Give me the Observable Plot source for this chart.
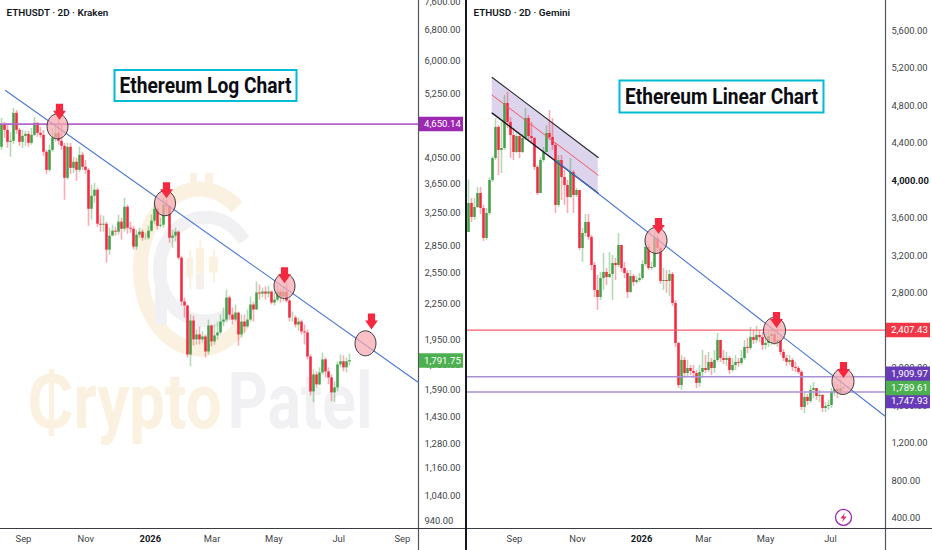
<!DOCTYPE html>
<html>
<head>
<meta charset="utf-8">
<script src="https://cdn.jsdelivr.net/npm/d3@7"></script>
<script src="https://cdn.jsdelivr.net/npm/@observablehq/plot@0.6"></script>
<style>
html,body{margin:0;padding:0;background:#fff;overflow:hidden}
#wrap{display:flex;width:932px;height:550px}
#wrap svg{display:block;flex:none}
#left{width:465px;height:550px}
#right{width:465px;height:550px;border-left:2px solid #131722}
</style>
</head>
<body>
<div id="wrap"><div id="left"></div><div id="right"></div></div>
<script>
// ---------- Left panel (ETHUSDT, log scale) ----------
const leftFirstOpen = 4235;
const leftClose = [4626,4534,4320,4338,4855,4534,4320,4425,4461,4303,4443,4664,4479,4443,4150,3859,4183,4390,4479,4338,4251,3737,4234,3890,3986,3859,4100,3907,3859,3298,3476,3561,3105,3093,3105,2797,2959,3019,3007,3131,3043,3325,3055,3043,2831,2971,3007,2935,2935,3019,3144,3298,3080,3093,3352,3339,2935,2959,3007,2708,2269,2233,1833,2102,1947,1987,1947,1971,1855,2060,1932,1979,2003,2093,2110,2306,2153,2110,2170,1987,2093,2052,2110,2242,2197,2353,2343,2362,2343,2362,2260,2287,2362,2315,2362,2278,2127,2127,2068,2093,2011,2003,1818,1579,1691,1625,1705,1797,1712,1671,1573,1605,1761,1783,1740,1783,1791.75];
const leftHigh = [4758,4682,4645,4497,4953,4914,4571,4534,4516,4516,4571,4777,4682,4589,4534,4183,4268,4571,4645,4758,4626,4303,4303,4303,4067,4051,4234,4150,4018,3890,3633,3662,3590,3220,3208,3131,3055,3093,3068,3220,3182,3448,3352,3131,3080,3031,3055,3031,2995,3080,3220,3379,3312,3182,3448,3420,3325,3031,3055,3019,2730,2306,2242,2153,2144,2027,2052,2011,1987,2110,2068,2068,2093,2153,2215,2381,2325,2215,2242,2179,2153,2153,2197,2315,2269,2459,2430,2401,2411,2420,2372,2353,2430,2391,2411,2450,2297,2179,2144,2127,2110,2068,2027,1833,1726,1712,1740,1847,1811,1740,1691,1645,1783,1833,1826,1811,1840];
const leftLow = [4183,4390,4217,4067,4285,4461,4251,4217,4251,4234,4268,4425,4407,4390,4084,3797,3828,4150,4320,4268,4183,3420,3707,3797,3812,3692,3828,3859,3797,3080,3156,3379,3068,3007,3007,2655,2741,2971,2959,2971,2912,3007,2983,2995,2797,2797,2935,2900,2912,2912,3007,3105,3031,3055,3055,3220,2877,2819,2889,2687,2233,2127,1811,1747,1900,1908,1908,1924,1811,1833,1893,1908,1947,1987,2052,2093,2110,2068,2093,1900,1963,2003,2044,2093,2093,2197,2287,2306,2287,2306,2242,2233,2269,2260,2269,2260,2093,2093,2044,2019,1987,1908,1797,1555,1511,1605,1618,1691,1671,1625,1518,1511,1579,1740,1712,1705,1754];
const leftYTicks = [7600,6800,6000,5250,4050,3650,3250,2850,2550,2250,1950,1760,1590,1430,1280,1160,1040,940];
const leftXTicks = [7.33,28.1,49.6,70.2,90.8,112.4,133.6];
const leftXLabels = ["Sep","Nov","2026","Mar","May","Jul","Sep"];
const leftTrend = [{x:1.33,y:5326},{x:139,y:1640}];
const leftCircleX = [18.67,54.5,94.33,121.33];
const leftCircleY = [4608,3379,2420,1921];
const leftArrowX = [19.33,55,94.33,123.33];
const leftArrowY = [4885,3561,2529,2098];

// ---------- Right panel (ETHUSD, linear scale) ----------
const rightFirstOpen = 3448;
const rightClose = [3757,3608,3714,3863,3703,3384,3650,4002,4236,4567,4322,4343,4822,4620,4481,4300,4470,4300,4449,4662,4470,4449,4141,3863,4215,4300,4503,4460,4375,3736,4215,4034,3949,3821,4087,3842,3895,3277,3437,3555,3395,3096,2830,2755,2957,3022,2968,3000,3117,3096,3309,3064,3011,2809,2979,2915,2936,2957,3106,3288,3064,3075,3384,3277,2925,2936,2925,3000,2691,2265,1817,2084,1945,1998,1966,1945,1839,1956,1998,1977,2063,1998,2084,2297,2105,2084,2105,1977,2031,2063,2052,2105,2223,2212,2329,2297,2350,2329,2244,2265,2339,2360,2276,2297,2169,2105,2063,2084,2009,1998,1956,1583,1690,1647,1764,1785,1700,1711,1572,1593,1604,1743,1774,1732,1785,1789.61];
const rightHigh = [4008,3810,3810,3928,3928,3736,3703,4034,4257,4662,4588,4620,4908,4940,4673,4556,4514,4503,4491,4769,4695,4620,4460,4162,4247,4354,4588,4748,4662,4396,4268,4268,4108,4002,4236,4108,3916,3895,3490,3639,3639,3416,3128,2990,3022,3224,3064,3235,3203,3171,3437,3309,3128,3043,3043,3000,2979,3011,3149,3363,3319,3128,3458,3416,3298,3064,3043,3043,3022,2723,2276,2137,2116,2084,2031,2031,1977,2031,2190,2137,2169,2105,2190,2371,2297,2190,2169,2126,2105,2137,2105,2190,2297,2318,2436,2404,2446,2404,2382,2360,2404,2414,2404,2457,2339,2200,2137,2137,2105,2063,2020,1977,1732,1721,1817,1850,1785,1764,1721,1636,1658,1785,1850,1827,1871,1806];
const rightLow = [3448,3555,3576,3703,3639,3352,3363,3629,3981,4215,4055,4076,4322,4556,4236,4215,4289,4236,4289,4428,4428,4396,4108,3842,3895,4194,4300,4428,4322,3650,3714,3789,3736,3650,3810,3650,3821,3256,3128,3405,3363,3043,2755,2617,2723,2830,2883,2957,2723,2936,3075,3022,2957,2744,2798,2872,2893,2915,2936,3085,3043,3043,3064,3235,2893,2830,2798,2765,2659,2223,1785,1764,1892,1913,1924,1892,1785,1796,1892,1945,1956,1924,1945,2063,2063,2041,2020,1934,1956,1977,2009,2031,2084,2158,2190,2254,2265,2276,2190,2200,2223,2244,2244,2223,2137,2073,2020,2031,1966,1956,1934,1551,1519,1604,1625,1679,1658,1636,1530,1530,1551,1572,1700,1679,1711,1764];
const rightYTicks = [5600,5200,4800,4400,3600,3200,2800,2000,1600,1200,800,400];
const rightYBold = [4000];
const rightXTicks = [15.33,36.33,57.67,78.33,99,120.67];
const rightXLabels = ["Sep","Nov","2026","Mar","May","Jul"];
const rightTrend = [{x:29,y:4215},{x:139,y:1487}];
const channelX = [7.9,43.23];
const channelTop = [5100,4247];
const channelMid = [4911,4058];
const channelBottom = [4719,3866];
const rightCircleX = [62.5,102,124.83];
const rightCircleY = [3363,2404,1860];
const rightArrowX = [63.33,102.67,125];
const rightArrowY = [3516,2515,1982];

// ---------- Shared helpers ----------
const UP = "#43a047", DOWN = "#f5283f";
const font = "Roboto, 'Liberation Sans', sans-serif";
const xEnd = 139;
const fmt = d3.format(",.2f");

function candles(close, high, low, first){
  if (close.length !== high.length || close.length !== low.length)
    throw new Error("length mismatch "+close.length+" "+high.length+" "+low.length);
  return close.map((c,i)=>({i, open:i?close[i-1]:first, close:c, high:high[i], low:low[i]}));
}
const ellipseSym = (w,h)=>({draw(c){
  const a=w/2,b=h/2,k=0.5523;
  c.moveTo(-a,0);
  c.bezierCurveTo(-a,-b*k,-a*k,-b,0,-b);
  c.bezierCurveTo(a*k,-b,a,-b*k,a,0);
  c.bezierCurveTo(a,b*k,a*k,b,0,b);
  c.bezierCurveTo(-a*k,b,-a,b*k,-a,0);
  c.closePath();
}});
const arrowSym = {draw(c){
  c.moveTo(-3.6,-8);c.lineTo(3.6,-8);c.lineTo(3.6,-1);c.lineTo(6.4,-1);
  c.lineTo(0,8);c.lineTo(-6.4,-1);c.lineTo(-3.6,-1);c.closePath();
}};
const boxSym = (w,h,x0)=>({draw(c){c.moveTo(x0,-h/2);c.lineTo(x0+w,-h/2);c.lineTo(x0+w,h/2);c.lineTo(x0,h/2);c.closePath();}});
const ellipseArcSym = (rx,ry,a0,a1)=>({draw(c){
  const n=60;
  for(let k=0;k<=n;k++){
    const a=a0+(a1-a0)*k/n, px=rx*Math.cos(a), py=ry*Math.sin(a);
    if(k===0) c.moveTo(px,py); else c.lineTo(px,py);
  }
}});
const boltSym = {draw(c){c.moveTo(1.5,-5);c.lineTo(-3,1);c.lineTo(0,1);c.lineTo(-1.5,5);c.lineTo(3,-1);c.lineTo(0,-1);c.closePath();}};

const candleMarks = rows => [
  Plot.ruleX(rows,{x:"i",y1:"low",y2:"high",stroke:d=>d.close>=d.open?UP:DOWN,strokeWidth:1.6,strokeOpacity:0.4}),
  Plot.ruleX(rows,{x:"i",y1:"open",y2:"close",stroke:d=>d.close>=d.open?UP:DOWN,strokeWidth:2.5})
];
const signalMarks = (cx,cy,ax,ay,w,h) => [
  Plot.dot(cx.map((x,k)=>({x,y:cy[k]})),{x:"x",y:"y",symbol:ellipseSym(w,h),fill:"#f7a9ae",fillOpacity:0.72,stroke:"#3a3a40",strokeWidth:1}),
  Plot.dot(ax.map((x,k)=>({x,y:ay[k]})),{x:"x",y:"y",symbol:arrowSym,fill:"#f5283f",stroke:"none"})
];
const badge = (value,color,dy=0) => [
  Plot.dot([value],{x:()=>xEnd,y:d=>d,dy,symbol:boxSym(44,14.5,0.5),fill:color,stroke:"none"}),
  Plot.text([value],{x:()=>xEnd,y:d=>d,dy,dx:5.5,text:d=>fmt(d),textAnchor:"start",fill:"#fff",fontSize:9.6})
];
const frameRules = yMin => [
  Plot.ruleX([xEnd],{stroke:"#54565f",strokeWidth:1.2,insetBottom:-22}),
  Plot.ruleY([yMin],{stroke:"#3a3c44",strokeWidth:1.2,insetRight:-47})
];
const titleBox = (text,x,y,w,h) => [
  Plot.dot([{x,y}],{x:"x",y:"y",symbol:boxSym(w,h,-w/2),fill:"#fff",stroke:"#00bcd4",strokeWidth:2}),
  Plot.text([{x,y}],{x:"x",y:"y",text:()=>text,fontSize:22,fontWeight:700,fill:"#0b0d12",fontFamily:"Roboto, sans-serif"})
];
const header = text => Plot.text([text],{frameAnchor:"top-left",dx:6,dy:8,fontSize:9.9,fontWeight:600,fill:"#131722",text:d=>d});
const axes = (ticks,xTicks,xLabels) => [
  Plot.axisY({anchor:"right",ticks,tickSize:0,tickPadding:6,tickFormat:fmt,fontSize:9.4,fill:"#3d3f47",label:null}),
  Plot.axisX({ticks:xTicks.filter((_,k)=>xLabels[k]!=="2026"),tickSize:0,tickPadding:7,fontSize:9.4,fill:"#3d3f47",label:null,
    tickFormat:d=>xLabels[xTicks.indexOf(d)]}),
  Plot.axisX({ticks:xTicks.filter((_,k)=>xLabels[k]==="2026"),tickSize:0,tickPadding:7,fontSize:9.4,fontWeight:700,fill:"#131722",label:null,
    tickFormat:()=>"2026"})
];
const baseOpts = (y) => ({
  width:465,height:550,marginLeft:0,marginRight:47,marginTop:0,marginBottom:22,
  x:{domain:[-1/3,xEnd],range:[0,418]},
  y,
  color:{type:"identity"},
  style:{fontFamily:font,background:"#fff",overflow:"visible"}
});
// condense large display text horizontally to the reference's narrower letterforms
const fitText = (svg, widths) => {
  svg.querySelectorAll("text").forEach(t=>{
    const w = widths[t.textContent];
    if (w){ t.setAttribute("textLength",w); t.setAttribute("lengthAdjust","spacingAndGlyphs"); }
  });
  return svg;
};

// ---------- Watermark of the left panel ----------
const wmBodies = [
  {x1:61.7,x2:64,y1:2499,y2:2708},
  {x1:65,x2:67.7,y1:2550,y2:2819},
  {x1:69.3,x2:72.3,y1:2550,y2:2719},
  {x1:63,x2:65.3,y1:3633,y2:3812},
  {x1:68,x2:70.7,y1:3633,y2:3812}
];
const wmGrayBodies = [
  {x1:65,x2:67.7,y1:2381,y2:2550},
  {x1:51.3,x2:55.3,y1:2068,y2:2633}
];
const wmWicks = [{x:62.9,y1:2381,y2:2797},{x:66.3,y1:2381,y2:2912},{x:70.8,y1:2450,y2:2797}];
const wmColor = "#fbf1e0", wmGray = "#f1f1f3";
const watermark = [
  Plot.dot([{x:66,y:2591}],{x:"x",y:"y",symbol:ellipseArcSym(59,80,0.75,5.4),fill:"none",stroke:wmColor,strokeWidth:15}),
  Plot.dot([{x:68,y:2591}],{x:"x",y:"y",symbol:ellipseArcSym(46,52,1.0,5.7),fill:"none",stroke:wmGray,strokeWidth:13}),
  Plot.rect(wmGrayBodies,{x1:"x1",x2:"x2",y1:"y1",y2:"y2",fill:wmGray}),
  Plot.ruleX(wmWicks,{x:"x",y1:"y1",y2:"y2",stroke:wmColor,strokeWidth:2}),
  Plot.rect(wmBodies,{x1:"x1",x2:"x2",y1:"y1",y2:"y2",fill:wmColor}),
  Plot.text(["\u20B5rypto"],{x:()=>8.67,y:()=>1511,text:d=>d,textAnchor:"start",fontSize:78,fontWeight:700,fill:wmColor,fontFamily:"Roboto, sans-serif"}),
  Plot.text(["Patel"],{x:()=>75.33,y:()=>1511,text:d=>d,textAnchor:"start",fontSize:78,fontWeight:700,fill:wmGray,fontFamily:"Roboto, sans-serif"})
];

// ---------- Left chart ----------
const leftRows = candles(leftClose,leftHigh,leftLow,leftFirstOpen);
document.getElementById("left").append(fitText(Plot.plot({
  ...baseOpts({type:"log",domain:[910.4,7654],range:[528,0]}),
  marks:[
    ...watermark,
    ...frameRules(910.4),
    ...axes(leftYTicks,leftXTicks,leftXLabels),
    ...candleMarks(leftRows),
    Plot.ruleY([4650.14],{stroke:"#b765c9",strokeWidth:1.6}),
    Plot.line(leftTrend,{x:"x",y:"y",stroke:"#4a78d2",strokeWidth:1.1}),
    ...signalMarks(leftCircleX,leftCircleY,leftArrowX,leftArrowY,21,25),
    ...titleBox("Ethereum Log Chart",68,5433,182,31),
    header("ETHUSDT \u00B7 2D \u00B7 Kraken"),
    ...badge(4650.14,"#9c27b0"),
    ...badge(1791.75,"#4caf50")
  ]
}),{"Ethereum Log Chart":172,"\u20B5rypto":194,"Patel":145}));

// ---------- Right chart ----------
const rightRows = candles(rightClose,rightHigh,rightLow,rightFirstOpen);
const channelRows = channelX.map((x,k)=>({x,top:channelTop[k],mid:channelMid[k],bottom:channelBottom[k]}));
document.getElementById("right").append(fitText(Plot.plot({
  ...baseOpts({type:"linear",domain:[293,5920],range:[528,0]}),
  marks:[
    ...frameRules(293),
    ...axes(rightYTicks,rightXTicks,rightXLabels),
    Plot.axisY({anchor:"right",ticks:rightYBold,tickSize:0,tickPadding:6,tickFormat:fmt,fontSize:9.4,fontWeight:700,fill:"#131722",label:null}),
    Plot.areaY(channelRows,{x:"x",y1:"top",y2:"bottom",fill:"#d6cbe9",fillOpacity:0.85}),
    ...candleMarks(rightRows),
    Plot.line(channelRows,{x:"x",y:"top",stroke:"#26262c",strokeWidth:1.1}),
    Plot.line(channelRows,{x:"x",y:"mid",stroke:"#f5555f",strokeWidth:1}),
    Plot.line(channelRows,{x:"x",y:"bottom",stroke:"#1a1a22",strokeWidth:1.5}),
    Plot.ruleY([2407.43],{stroke:"#f5606c",strokeWidth:1.1}),
    Plot.ruleY([1909.97,1747.93],{stroke:"#a88fd6",strokeWidth:1.6}),
    Plot.line(rightTrend,{x:"x",y:"y",stroke:"#4a78d2",strokeWidth:1.1}),
    ...signalMarks(rightCircleX,rightCircleY,rightArrowX,rightArrowY,22,26),
    ...titleBox("Ethereum Linear Chart",84.33,4897,204,32),
    header("ETHUSD \u00B7 2D \u00B7 Gemini"),
    ...badge(2407.43,"#f23645"),
    ...badge(1909.97,"#673ab7",-3),
    ...badge(1747.93,"#673ab7",9),
    ...badge(1789.61,"#4caf50"),
    Plot.dot([{x:125,y:411}],{x:"x",y:"y",r:8,fill:"none",stroke:"#9c27b0",strokeWidth:1.3}),
    Plot.dot([{x:125,y:411}],{x:"x",y:"y",symbol:boltSym,fill:"#e91e63",stroke:"none"})
  ]
}),{"Ethereum Linear Chart":193}));
</script>
</body>
</html>
